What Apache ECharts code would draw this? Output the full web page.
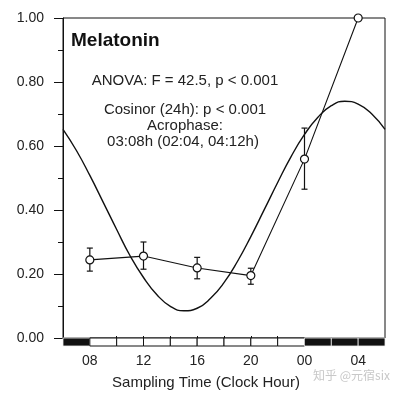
<!DOCTYPE html>
<html><head><meta charset="utf-8">
<script src="https://cdn.jsdelivr.net/npm/echarts@6/dist/echarts.min.js"></script>
<style>html,body{margin:0;padding:0;background:#fff}#c{width:400px;height:395px}</style>
</head><body><div id="c"></div>
<script>
// Data (clock hours, 24..30 = next day 00..06)
const hours = [8, 12, 16, 20, 24, 28];
const melatonin = [0.244, 0.256, 0.219, 0.195, 0.559, 1.00];
const errLow = [0.209, 0.215, 0.185, 0.168, 0.465];
const errHigh = [0.281, 0.300, 0.252, 0.218, 0.656];
const fitHours = [6,7,8,9,10,11,12,13,14,15,16,17,18,19,20,21,22,23,24,25,26,27,28,29,30];
const fitValues = [0.652,0.586,0.508,0.424,0.339,0.257,0.189,0.135,0.099,0.085,0.093,0.124,0.173,0.239,0.317,0.401,0.486,0.567,0.636,0.690,0.726,0.740,0.731,0.701,0.652];
const tickHours = [8, 12, 16, 20, 24, 28];
const tickLabels = ['08', '12', '16', '20', '00', '04'];
const segStart = [6, 8, 10, 12, 14, 16, 18, 20, 22, 24, 26, 28];
const segDark = [1, 0, 0, 0, 0, 0, 0, 0, 0, 1, 1, 1];
const segTicks = [10, 12, 14, 16, 18, 20, 22];

const FONT = 'Liberation Sans, Arial, sans-serif';
const chart = echarts.init(document.getElementById('c'));
chart.setOption({
  backgroundColor: '#fff',
  animation: false,
  grid: [
    {left: 63, top: 18, width: 322, height: 320, show: true, borderColor: '#111', borderWidth: 1, backgroundColor: 'transparent'},
    {left: 63, top: 338, width: 322, height: 8, show: false}
  ],
  xAxis: [
    {gridIndex: 0, type: 'value', min: 6, max: 30, axisLine: {show: false},
     axisTick: {show: true, inside: true, length: 2, customValues: segTicks, lineStyle: {color: '#111'}},
     axisLabel: {show: false}, splitLine: {show: false}},
    {gridIndex: 1, type: 'value', min: 6, max: 30, axisLine: {show: false}, axisTick: {show: false}, splitLine: {show: false},
     axisLabel: {show: true, customValues: tickHours, margin: 8, fontSize: 14, fontFamily: FONT, color: '#222',
       formatter: v => tickLabels[tickHours.indexOf(v)]}}
  ],
  yAxis: [
    {gridIndex: 0, type: 'value', min: 0, max: 1, interval: 0.2,
     axisLine: {show: true, lineStyle: {color: '#111', width: 1}},
     axisTick: {show: true, length: 9, lineStyle: {color: '#111'}},
     minorTick: {show: true, splitNumber: 2, length: 5, lineStyle: {color: '#111'}},
     splitLine: {show: false},
     axisLabel: {margin: 19, fontSize: 14, fontFamily: FONT, color: '#222', formatter: v => v.toFixed(2)}},
    {gridIndex: 1, type: 'value', min: 0, max: 1, show: false}
  ],
  graphic: [
    {type: 'text', left: 71, top: 31, style: {text: 'Melatonin', font: 'bold 19px ' + FONT, fill: '#111'}},
    {type: 'text', x: 185, y: 81, style: {text: 'ANOVA: F = 42.5, p < 0.001', font: '15px ' + FONT, fill: '#222', align: 'center', verticalAlign: 'middle'}},
    {type: 'text', x: 185, y: 110, style: {text: 'Cosinor (24h): p < 0.001', font: '15px ' + FONT, fill: '#222', align: 'center', verticalAlign: 'middle'}},
    {type: 'text', x: 185, y: 126, style: {text: 'Acrophase:', font: '15px ' + FONT, fill: '#222', align: 'center', verticalAlign: 'middle'}},
    {type: 'text', x: 183, y: 142, style: {text: '03:08h (02:04, 04:12h)', font: '15px ' + FONT, fill: '#222', align: 'center', verticalAlign: 'middle'}},
    {type: 'text', x: 206, y: 383, style: {text: 'Sampling Time (Clock Hour)', font: '15px ' + FONT, fill: '#222', align: 'center', verticalAlign: 'middle'}},
    {type: 'text', right: 10, top: 369, style: {text: '知乎 @元宿six', font: '12px "Noto Sans CJK SC", sans-serif', fill: '#c8c8c8'}}
  ],
  series: [
    {type: 'line', xAxisIndex: 0, yAxisIndex: 0, data: fitHours.map((h, i) => [h, fitValues[i]]),
     smooth: true, showSymbol: false, lineStyle: {color: '#111', width: 1.4}, z: 2},
    {type: 'custom', xAxisIndex: 0, yAxisIndex: 0, z: 3,
     data: errLow.map((l, i) => [hours[i], l, errHigh[i]]),
     renderItem: (params, api) => {
       const x = api.value(0);
       const a = api.coord([x, api.value(1)]);
       const b = api.coord([x, api.value(2)]);
       const st = {stroke: '#111', lineWidth: 1.2};
       return {type: 'group', children: [
         {type: 'line', shape: {x1: a[0], y1: a[1], x2: b[0], y2: b[1]}, style: st},
         {type: 'line', shape: {x1: a[0] - 3, y1: a[1], x2: a[0] + 3, y2: a[1]}, style: st},
         {type: 'line', shape: {x1: b[0] - 3, y1: b[1], x2: b[0] + 3, y2: b[1]}, style: st}
       ]};
     }},
    {type: 'line', xAxisIndex: 0, yAxisIndex: 0, data: hours.map((h, i) => [h, melatonin[i]]),
     symbol: 'circle', symbolSize: 8, clip: false,
     itemStyle: {color: '#fff', borderColor: '#111', borderWidth: 1.2},
     lineStyle: {color: '#111', width: 1.1}, z: 4},
    {type: 'custom', xAxisIndex: 1, yAxisIndex: 1, z: 5,
     data: segStart.map((s, i) => [s, s + 2, segDark[i]]),
     renderItem: (params, api) => {
       const p0 = api.coord([api.value(0), 1]);
       const p1 = api.coord([api.value(1), 0]);
       const dark = api.value(2) === 1;
       return {type: 'rect', shape: {x: p0[0], y: p0[1], width: p1[0] - p0[0], height: p1[1] - p0[1]},
         style: dark ? {fill: '#111', stroke: '#eee', lineWidth: 0.8} : {fill: '#fff', stroke: '#111', lineWidth: 1}};
     }}
  ]
});
</script></body></html>
